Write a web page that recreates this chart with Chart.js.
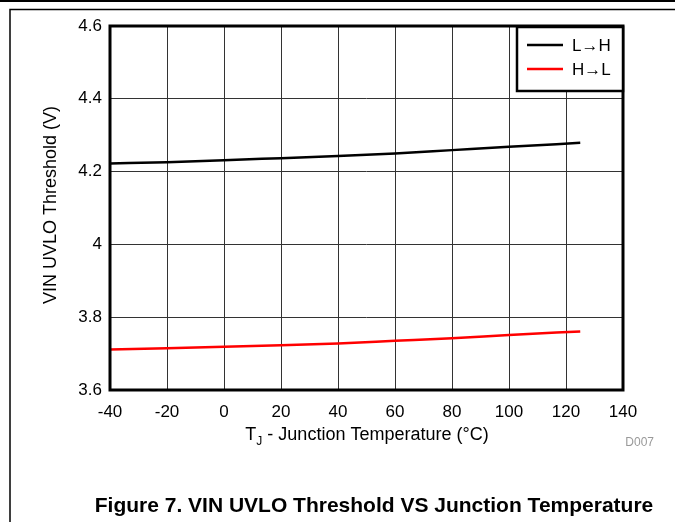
<!DOCTYPE html>
<html>
<head>
<meta charset="utf-8">
<script src="https://cdn.jsdelivr.net/npm/chart.js@4.4.0/dist/chart.umd.min.js"></script>
<style>
  html, body { margin: 0; padding: 0; background: #fff; }
  #wrap { width: 675px; height: 522px; }
</style>
</head>
<body>
<div id="wrap"><canvas id="uvlo" width="675" height="522"></canvas></div>
<script>
// VIN UVLO threshold vs junction temperature
const temps = [-40, -20, 0, 20, 40, 60, 80, 100, 125];
const risingThreshold = [4.222, 4.226, 4.231, 4.237, 4.243, 4.250, 4.259, 4.268, 4.279];
const fallingThreshold = [3.711, 3.715, 3.719, 3.723, 3.728, 3.735, 3.742, 3.751, 3.761];
const seriesNames = ['L\u2192H', 'H\u2192L'];
const seriesColors = ['#000000', '#ff0000'];
const xTickLabels = ['-40', '-20', '0', '20', '40', '60', '80', '100', '120', '140'];
const yTickLabels = ['3.6', '3.8', '4', '4.2', '4.4', '4.6'];

const FONT = '"Liberation Sans", Arial, sans-serif';

function toPoints(ys) {
  return temps.map((t, i) => ({ x: t, y: ys[i] }));
}

// page frame, plot border, legend and titles
const decorations = {
  id: 'decorations',
  beforeDraw(chart) {
    const ctx = chart.ctx;
    ctx.save();
    ctx.fillStyle = '#fff';
    ctx.fillRect(0, 0, chart.width, chart.height);
    ctx.strokeStyle = '#000';
    ctx.lineWidth = 2;
    ctx.beginPath();
    ctx.moveTo(0, 1);
    ctx.lineTo(chart.width, 1);
    ctx.stroke();
    ctx.lineWidth = 1.5;
    ctx.beginPath();
    ctx.moveTo(chart.width, 9.5);
    ctx.lineTo(10, 9.5);
    ctx.lineTo(10, chart.height);
    ctx.stroke();
    ctx.restore();
  },
  afterDraw(chart) {
    const ctx = chart.ctx;
    const a = chart.chartArea;
    ctx.save();

    // plot border
    ctx.strokeStyle = '#000';
    ctx.lineWidth = 3;
    ctx.strokeRect(a.left, a.top, a.right - a.left, a.bottom - a.top);

    // legend box in the upper right corner
    const lx = a.right - 106, ly = a.top + 1, lw = 106, lh = 64;
    ctx.fillStyle = '#fff';
    ctx.fillRect(lx, ly, lw, lh);
    ctx.lineWidth = 2.5;
    ctx.strokeRect(lx, ly, lw, lh);
    ctx.font = '17px ' + FONT;
    ctx.textBaseline = 'middle';
    ctx.textAlign = 'left';
    chart.data.datasets.forEach((ds, i) => {
      const y = ly + 18 + i * 24;
      ctx.strokeStyle = ds.borderColor;
      ctx.lineWidth = 2.5;
      ctx.beginPath();
      ctx.moveTo(lx + 10, y);
      ctx.lineTo(lx + 46, y);
      ctx.stroke();
      ctx.fillStyle = '#000';
      ctx.fillText(ds.label, lx + 55, y + 1);
    });

    // y axis title
    ctx.fillStyle = '#000';
    ctx.font = '18px ' + FONT;
    ctx.translate(51, (a.top + a.bottom) / 2 - 3);
    ctx.rotate(-Math.PI / 2);
    ctx.textAlign = 'center';
    ctx.textBaseline = 'middle';
    ctx.fillText('VIN UVLO Threshold (V)', 0, 0);
    ctx.setTransform(1, 0, 0, 1, 0, 0);

    // x axis title with subscript J
    const parts = [
      { t: 'T', size: 18, dy: 0 },
      { t: 'J', size: 12, dy: 5 },
      { t: ' - Junction Temperature (\u00b0C)', size: 18, dy: 0 }
    ];
    let total = 0;
    parts.forEach(p => { ctx.font = p.size + 'px ' + FONT; total += ctx.measureText(p.t).width; });
    let x = 367 - total / 2;
    const baseY = 440;
    ctx.textAlign = 'left';
    ctx.textBaseline = 'alphabetic';
    parts.forEach(p => {
      ctx.font = p.size + 'px ' + FONT;
      ctx.fillText(p.t, x, baseY + p.dy);
      x += ctx.measureText(p.t).width;
    });

    // figure id
    ctx.fillStyle = '#999';
    ctx.font = '12px ' + FONT;
    ctx.textAlign = 'right';
    ctx.fillText('D007', 654, 446);

    // caption
    ctx.fillStyle = '#000';
    ctx.font = 'bold 21px ' + FONT;
    ctx.textAlign = 'center';
    ctx.fillText('Figure 7. VIN UVLO Threshold VS Junction Temperature', 374, 512);

    ctx.restore();
  }
};

new Chart(document.getElementById('uvlo'), {
  type: 'line',
  data: {
    datasets: [
      {
        label: seriesNames[0],
        data: toPoints(risingThreshold),
        borderColor: seriesColors[0],
        borderWidth: 2.5,
        pointRadius: 0,
        cubicInterpolationMode: 'monotone'
      },
      {
        label: seriesNames[1],
        data: toPoints(fallingThreshold),
        borderColor: seriesColors[1],
        borderWidth: 2.5,
        pointRadius: 0,
        cubicInterpolationMode: 'monotone'
      }
    ]
  },
  options: {
    responsive: false,
    animation: false,
    layout: { padding: { left: 0, top: 26, right: 52, bottom: 0 } },
    plugins: {
      legend: { display: false },
      tooltip: { enabled: false }
    },
    scales: {
      x: {
        type: 'linear',
        min: -40,
        max: 140,
        afterBuildTicks(scale) {
          scale.ticks = xTickLabels.map(v => ({ value: Number(v) }));
        },
        afterFit(scale) { scale.height = 132; },
        ticks: {
          color: '#000',
          font: { family: FONT, size: 17 },
          padding: 12,
          maxRotation: 0,
          callback: (v, i) => xTickLabels[i]
        },
        grid: { color: '#333', lineWidth: 1, drawTicks: false },
        border: { display: false }
      },
      y: {
        type: 'linear',
        min: 3.6,
        max: 4.6,
        afterBuildTicks(scale) {
          scale.ticks = yTickLabels.map(v => ({ value: Number(v) }));
        },
        afterFit(scale) { scale.width = 110; },
        ticks: {
          color: '#000',
          font: { family: FONT, size: 17 },
          padding: 8,
          callback: (v, i) => yTickLabels[i]
        },
        grid: { color: '#333', lineWidth: 1, drawTicks: false },
        border: { display: false }
      }
    }
  },
  plugins: [decorations]
});
</script>
</body>
</html>
